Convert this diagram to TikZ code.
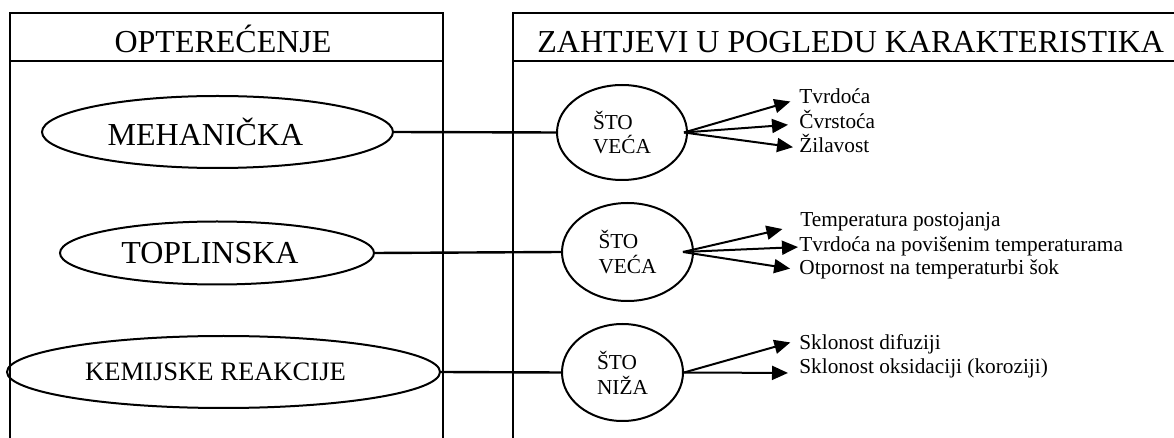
\documentclass[tikz,border=0pt]{standalone}
\usepackage{fontspec}
\setmainfont{Liberation Serif}
\usetikzlibrary{arrows.meta, shapes.geometric}
\tikzset{
  box/.style = {line width=1.35pt},
  bigell/.style = {draw, ellipse, line width=1pt, inner sep=0pt},
  smallell/.style = {draw, ellipse, line width=1pt, inner sep=0pt, align=left,
    font=\fontsize{10.65}{12.4}\selectfont},
  req/.style = {anchor=base west, inner sep=0pt, text height=5pt, text depth=0pt,
    font=\fontsize{10.65}{12.4}\selectfont},
  link/.style = {line width=1.2pt},
  arr/.style = {line width=1pt, -{Triangle[length=8pt, width=7pt]}}
}
\newcommand{\bigfont}{\fontsize{16}{19}\selectfont}

\begin{document}
\begin{tikzpicture}[x=0.5pt, y=-0.5pt]
\useasboundingbox (0,0) rectangle (1174,438);
\clip (0,0) rectangle (1174,438);
% the two boxes, open at the bottom
\draw [box] (10,445) -- (10,13) -- (443,13) -- (443,445);
\draw [box] (10,61) -- (443,61);
\draw [box] (513,445) -- (513,13) -- (1180,13);
\draw [box] (513,61) -- (1180,61);
\node [anchor=base, inner sep=0pt, font=\bigfont] (opt) at (223,53) {OPTEREĆENJE};
\node [anchor=base west, inner sep=0pt, font=\bigfont] (zah) at (537,53) {ZAHTJEVI U POGLEDU KARAKTERISTIKA};
% loads
\node [bigell, minimum width=175.5pt, minimum height=36pt,
  label={[xshift=-6pt, font=\bigfont]center:MEHANIČKA}] (meh) at (217.5,132) {};
\node [bigell, minimum width=157pt, minimum height=31.5pt,
  label={[xshift=-3.5pt, font=\bigfont]center:TOPLINSKA}] (topl) at (217,253) {};
\node [bigell, minimum width=216.5pt, minimum height=36pt,
  label={[xshift=-4pt, font=\fontsize{13.3}{16}\selectfont]center:KEMIJSKE REAKCIJE}] (kem) at (223.5,372) {};
% requirements
\node [smallell, minimum width=65pt, minimum height=47.5pt] (more1) at (622,132.5) {ŠTO\\VEĆA};
\node [smallell, minimum width=65.5pt, minimum height=49pt] (more2) at (627.5,252) {ŠTO\\VEĆA};
\node [smallell, minimum width=60.5pt, minimum height=48.5pt] (less) at (622.5,372.5) {ŠTO\\NIŽA};
\draw [link] (meh.east) -- (more1.west);
\draw [link] (topl.east) -- (more2.west);
\draw [link] (kem.east) -- (less.west);
\coordinate (m1) at ([xshift=-2pt]more1.east);
\coordinate (m2) at ([xshift=-5.5pt]more2.east);
\coordinate (l1) at (less.east);
% properties
\node [req] (tvrd) at (799,104) {Tvrdoća};
\node [req] (cvrs) at (799,129) {Čvrstoća};
\node [req] (zila) at (799,153) {Žilavost};
\node [req] (temp) at (800,227) {Temperatura postojanja};
\node [req] (tvpo) at (799,252) {Tvrdoća na povišenim temperaturama};
\node [req] (otpo) at (799,275) {Otpornost na temperaturbi šok};
\node [req] (difu) at (799,350) {Sklonost difuziji};
\node [req] (oksi) at (799,374) {Sklonost oksidaciji (koroziji)};
\draw [arr, shorten >=4.5pt] (m1) -- (tvrd.west);
\draw [arr, shorten >=5.5pt] (m1) -- (cvrs.west);
\draw [arr, shorten >=3pt] (m1) -- (zila.west);
\draw [arr, shorten >=9pt] (m2) -- ([yshift=-1.5pt]temp.west);
\draw [arr, shorten >=0.5pt] (m2) -- (tvpo.west);
\draw [arr, shorten >=4.5pt] (m2) -- (otpo.west);
\draw [arr, shorten >=4.5pt] (l1) -- ([yshift=2.5pt]difu.west);
\draw [arr, shorten >=5.5pt] (l1) -- ([yshift=-2pt]oksi.west);
\end{tikzpicture}
\end{document}
